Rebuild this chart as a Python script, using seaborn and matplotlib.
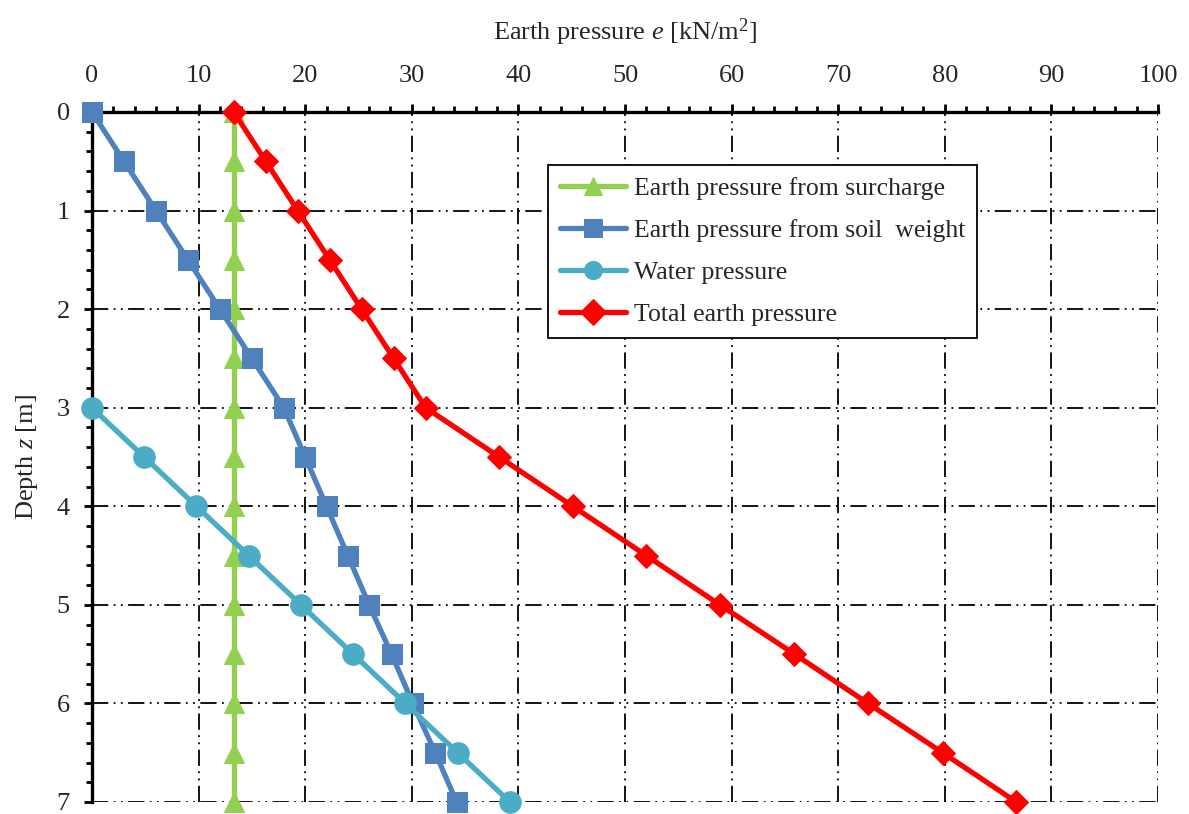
import matplotlib
matplotlib.use("Agg")
import matplotlib.pyplot as plt
import seaborn as sns
import pandas as pd
from matplotlib.ticker import MultipleLocator

# ---- data ----
depth = [0, 0.5, 1, 1.5, 2, 2.5, 3, 3.5, 4, 4.5, 5, 5.5, 6, 6.5, 7]
surcharge = [13.3] * 15
soil_weight = [0, 3.0, 6.0, 9.0, 12.0, 15.0, 18.0, 20.0, 22.0, 24.0, 26.0, 28.1, 30.1, 32.2, 34.2]
water_depth = [3, 3.5, 4, 4.5, 5, 5.5, 6, 6.5, 7]
water = [0, 4.9, 9.8, 14.7, 19.6, 24.5, 29.4, 34.3, 39.2]
total = [13.3, 16.3, 19.3, 22.3, 25.3, 28.3, 31.3, 38.2, 45.1, 52.0, 58.9, 65.9, 72.8, 79.8, 86.7]

labels = ["Earth pressure from surcharge", "Earth pressure from soil  weight",
          "Water pressure", "Total earth pressure"]
x_ticks = [0, 10, 20, 30, 40, 50, 60, 70, 80, 90, 100]
y_ticks = [0, 1, 2, 3, 4, 5, 6, 7]

sns.set_style("white")
plt.rcParams["font.family"] = ["Liberation Serif", "DejaVu Serif"]
plt.rcParams["mathtext.fontset"] = "custom"
plt.rcParams["mathtext.rm"] = "Liberation Serif"
plt.rcParams["mathtext.it"] = "Liberation Serif:italic"

fig = plt.figure(figsize=(11.89, 8.14), dpi=100)
ax = fig.add_axes([92 / 1189, 1 - 802 / 814, (1158 - 92) / 1189, (802 - 112) / 814])

series = [
    (surcharge, depth, "#92D050", "^", 14, labels[0]),
    (soil_weight, depth, "#4F81BD", "s", 14, labels[1]),
    (water, water_depth, "#4BACC6", "o", 15.5, labels[2]),
    (total, depth, "#FF0000", "D", 12, labels[3]),
]
for i, (xs, ys, col, mk, ms, lab) in enumerate(series):
    df = pd.DataFrame({"e": xs, "z": ys})
    sns.lineplot(data=df, x="e", y="z", sort=False, estimator=None, ax=ax,
                 color=col, marker=mk, markersize=ms, linewidth=3.8,
                 markeredgecolor=col, label=lab, zorder=3 + i, clip_on=False)

ax.set_xlim(0, 100)
ax.set_ylim(7, 0)
ax.set_xticks(x_ticks)
ax.set_yticks(y_ticks)
ax.xaxis.set_minor_locator(MultipleLocator(2))
ax.yaxis.set_minor_locator(MultipleLocator(0.2))
ax.xaxis.tick_top()
ax.xaxis.set_label_position("top")

ax.grid(True, which="major", color="black", linewidth=1.3,
        linestyle=(0, (9, 3, 1, 3, 1, 3)))
ax.set_axisbelow(True)

for s in ["right", "bottom"]:
    ax.spines[s].set_visible(False)
for s in ["top", "left"]:
    ax.spines[s].set_visible(True)
    ax.spines[s].set_color("black")
    ax.spines[s].set_linewidth(2.4)

ax.tick_params(axis="both", which="major", direction="out", length=6, width=2,
               color="black", labelsize=19)
ax.tick_params(axis="x", which="major", pad=12)
ax.tick_params(axis="y", which="major", pad=10)
ax.tick_params(axis="both", which="minor", direction="out", length=4, width=2,
               color="black")
ax.tick_params(axis="x", which="both", top=True, bottom=False, labeltop=True, labelbottom=False)
ax.tick_params(axis="y", which="both", left=True, right=False)

ax.set_xlabel(r"Earth pressure $e$ [kN/m$^2$]", fontsize=19, labelpad=18)
ax.set_ylabel(r"Depth $z$ [m]", fontsize=19, labelpad=12)

leg = ax.legend(loc="upper left", bbox_to_anchor=((548 - 92) / 1066, 1 - (165 - 112) / 690),
                borderaxespad=0, fontsize=18.5, frameon=True, fancybox=False, edgecolor="black",
                framealpha=1, handlelength=2.6, handletextpad=0.3, borderpad=0.45,
                labelspacing=0.75)
leg.get_frame().set_linewidth(1.3)
for h in leg.legend_handles:
    h.set_markersize(13)

fig.savefig("out.png", dpi=100)
